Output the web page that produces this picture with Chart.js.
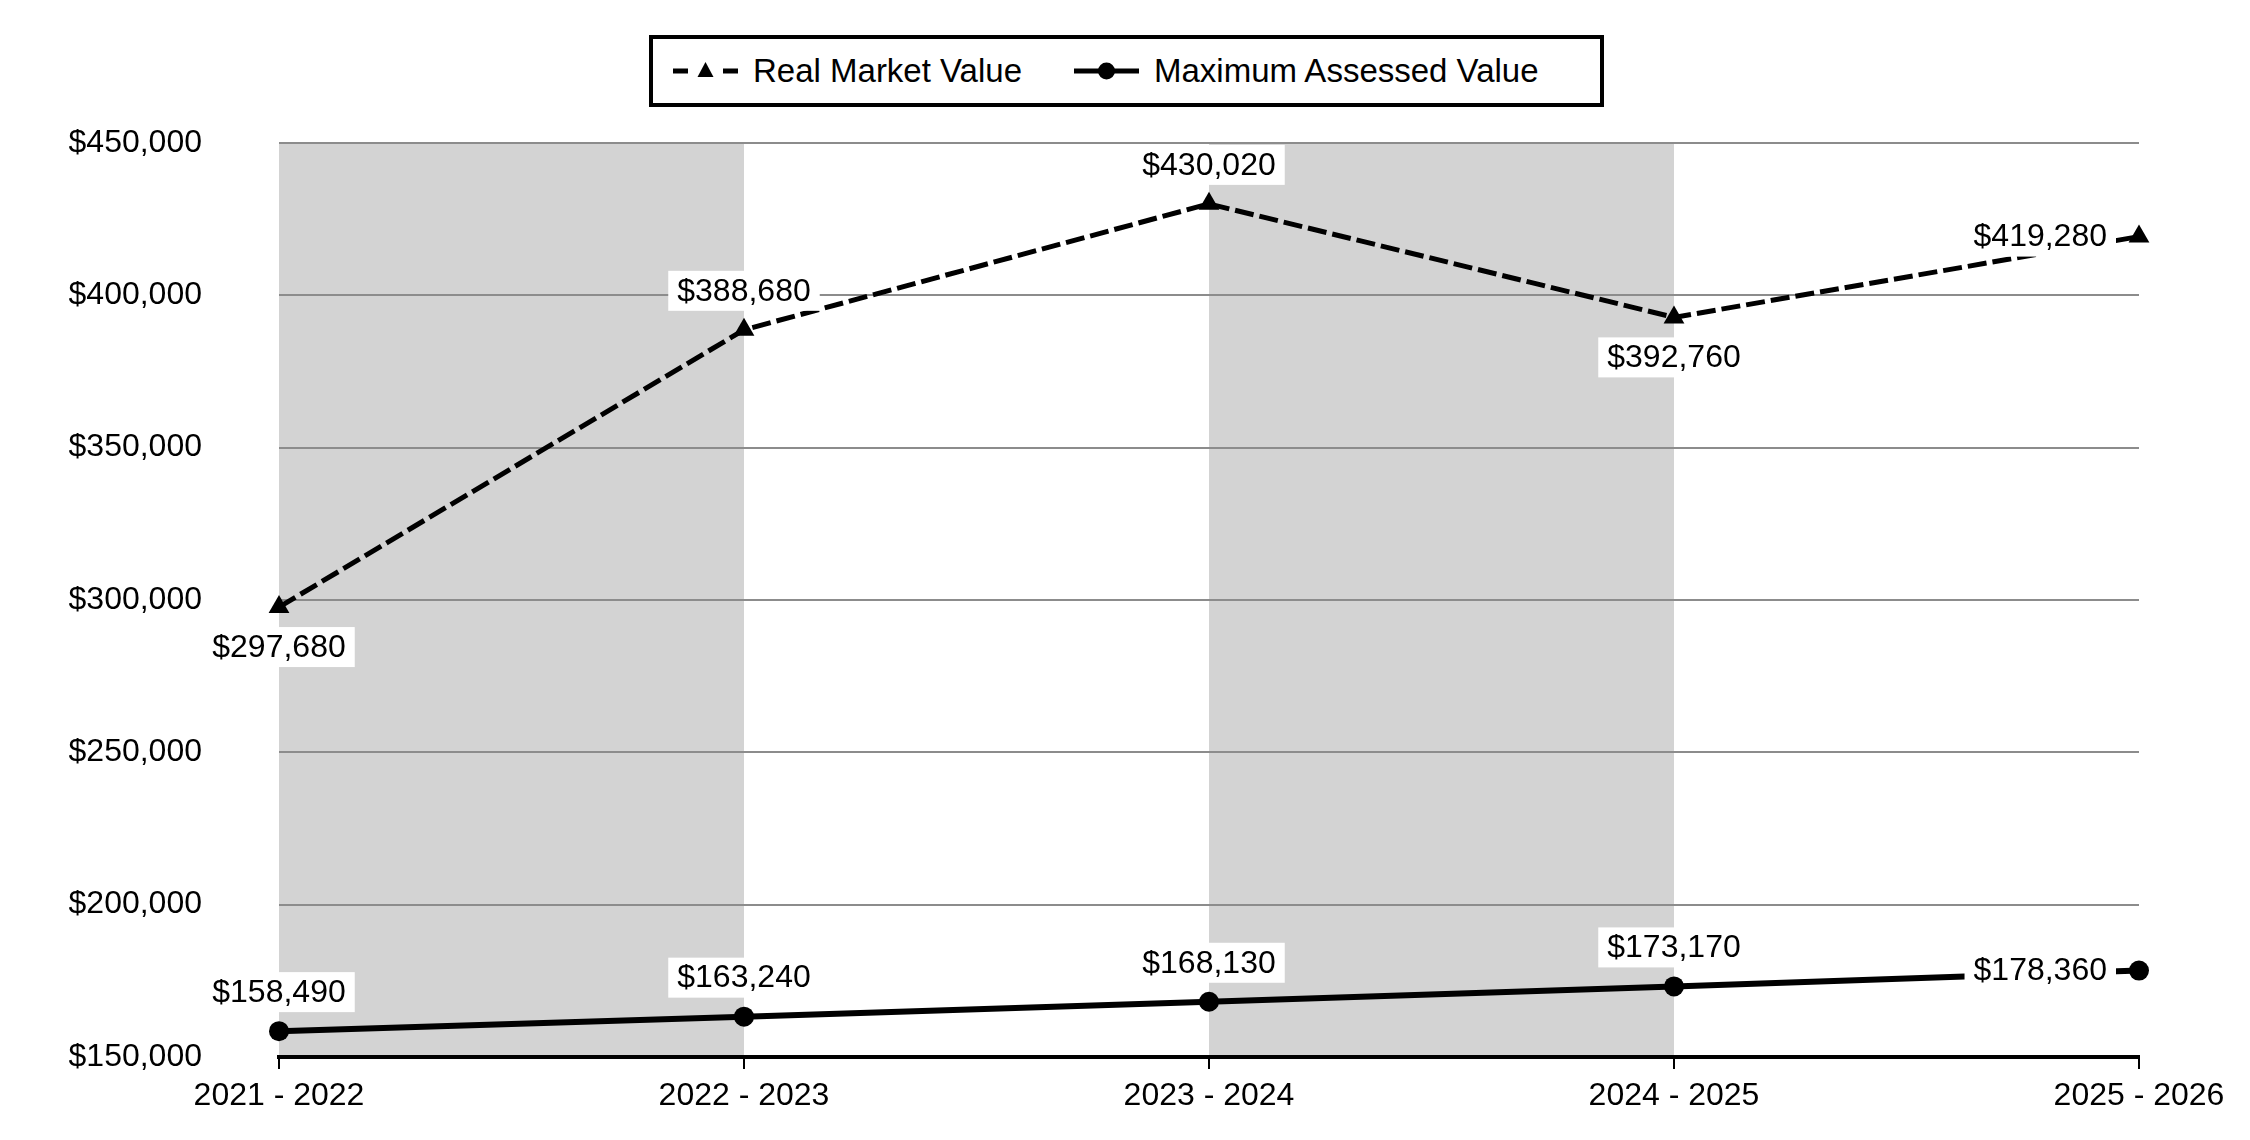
<!DOCTYPE html>
<html>
<head>
<meta charset="utf-8">
<script src="https://cdn.jsdelivr.net/npm/chart.js@4.4.1/dist/chart.umd.min.js"></script>
<style>
  body { margin: 0; background: #fff; }
  #wrap { position: relative; width: 2250px; height: 1140px; }
  #legenda {
    position: absolute; left: 649px; top: 35px; width: 955px; height: 72px;
    box-sizing: border-box; border: 4px solid #000; background: #fff;
    display: flex; align-items: center; padding-left: 20px;
    font-family: 'Liberation Sans', Arial, sans-serif; font-size: 33px; color: #000;
  }
  .item { display: flex; align-items: center; white-space: nowrap; }
  .item svg { margin-right: 15px; }
  .item + .item { margin-left: 52px; }
</style>
</head>
<body>
<div id="wrap">
  <canvas id="grafico" width="2250" height="1140"></canvas>
  <div id="legenda">
    <div class="item">
      <svg width="65" height="26" viewBox="0 0 65 26">
        <rect x="0" y="10.5" width="15" height="5" fill="#000"/>
        <polygon points="32.5,4 40.5,19 24.5,19" fill="#000"/>
        <rect x="50" y="10.5" width="15" height="5" fill="#000"/>
      </svg>
      <span>Real Market Value</span>
    </div>
    <div class="item">
      <svg width="65" height="26" viewBox="0 0 65 26">
        <rect x="0" y="10.5" width="65" height="5" fill="#000"/>
        <circle cx="32.5" cy="13" r="8.5" fill="#000"/>
      </svg>
      <span>Maximum Assessed Value</span>
    </div>
  </div>
</div>
<script>
  const anos = ['2021 - 2022', '2022 - 2023', '2023 - 2024', '2024 - 2025', '2025 - 2026'];
  const valorMercado = [297680, 388680, 430020, 392760, 419280];
  const valorAvaliado = [158490, 163240, 168130, 173170, 178360];
  const ticksY = [150000, 200000, 250000, 300000, 350000, 400000, 450000];
  const faixas = [[0, 1], [2, 3]];

  const posMercado = ['bottom', 'top', 'top', 'bottom', 'left'];
  const posAvaliado = ['top', 'top', 'top', 'top', 'left'];

  const fonte = "'Liberation Sans', Arial, sans-serif";
  const dinheiro = v => '$' + Number(v).toLocaleString('en-US');

  // faixas cinzas atras da grade
  const pluginFaixas = {
    id: 'faixas',
    beforeDraw(chart) {
      const { ctx, chartArea, scales } = chart;
      ctx.save();
      ctx.fillStyle = '#d3d3d3';
      faixas.forEach(([a, b]) => {
        const x1 = scales.x.getPixelForValue(a);
        const x2 = scales.x.getPixelForValue(b);
        ctx.fillRect(x1, chartArea.top, x2 - x1, chartArea.bottom - chartArea.top);
      });
      ctx.restore();
    }
  };

  // rotulos com caixa branca
  const pluginRotulos = {
    id: 'rotulos',
    afterDatasetsDraw(chart) {
      const ctx = chart.ctx;
      ctx.save();
      ctx.font = '32px ' + fonte;
      ctx.textAlign = 'center';
      ctx.textBaseline = 'middle';
      chart.data.datasets.forEach((ds, i) => {
        const meta = chart.getDatasetMeta(i);
        meta.data.forEach((pt, j) => {
          const texto = dinheiro(ds.data[j]);
          const w = ctx.measureText(texto).width + 18;
          const h = 40;
          let cx = pt.x, cy = pt.y;
          const pos = ds.rotulos[j];
          if (pos === 'top') cy = pt.y - 39;
          else if (pos === 'bottom') cy = pt.y + 40;
          else if (pos === 'left') cx = pt.x - 23 - w / 2;
          ctx.fillStyle = '#fff';
          ctx.fillRect(cx - w / 2, cy - h / 2, w, h);
          ctx.fillStyle = '#000';
          ctx.fillText(texto, cx, cy + 1);
        });
      });
      ctx.restore();
    }
  };

  const ctx = document.getElementById('grafico').getContext('2d');
  new Chart(ctx, {
    type: 'line',
    data: {
      labels: anos,
      datasets: [{
        label: 'Real Market Value',
        data: valorMercado,
        rotulos: posMercado,
        borderColor: '#000',
        backgroundColor: '#000',
        borderWidth: 5,
        borderDash: [19, 6],
        pointStyle: 'triangle',
        pointRadius: 12,
        pointBorderWidth: 0,
        tension: 0,
        clip: false
      }, {
        label: 'Maximum Assessed Value',
        data: valorAvaliado,
        rotulos: posAvaliado,
        borderColor: '#000',
        backgroundColor: '#000',
        borderWidth: 6,
        pointStyle: 'circle',
        pointRadius: 10,
        pointBorderWidth: 0,
        tension: 0,
        clip: false
      }]
    },
    options: {
      responsive: false,
      animation: false,
      devicePixelRatio: 1,
      layout: { padding: { top: 143, left: 69, right: 111, bottom: 25 } },
      plugins: {
        legend: { display: false },
        tooltip: { enabled: false }
      },
      scales: {
        x: {
          offset: false,
          afterFit: s => { s.height = 58; },
          grid: { display: true, drawOnChartArea: false, drawTicks: true, tickLength: 12, color: '#000', lineWidth: 2 },
          border: { display: true, color: '#000', width: 4 },
          ticks: { color: '#000', font: { family: fonte, size: 32 }, padding: 8, maxRotation: 0, autoSkip: false }
        },
        y: {
          min: 150000,
          max: 450000,
          afterBuildTicks: scale => { scale.ticks = ticksY.map(v => ({ value: v })); },
          afterFit: s => { s.width = 210; s.paddingTop = 20; s.paddingBottom = 20; },
          grid: { color: '#8c8c8c', lineWidth: 2, drawTicks: false },
          border: { display: false },
          ticks: { color: '#000', font: { family: fonte, size: 32 }, padding: 77, callback: v => dinheiro(v) }
        }
      }
    },
    plugins: [pluginFaixas, pluginRotulos]
  });
</script>
</body>
</html>
